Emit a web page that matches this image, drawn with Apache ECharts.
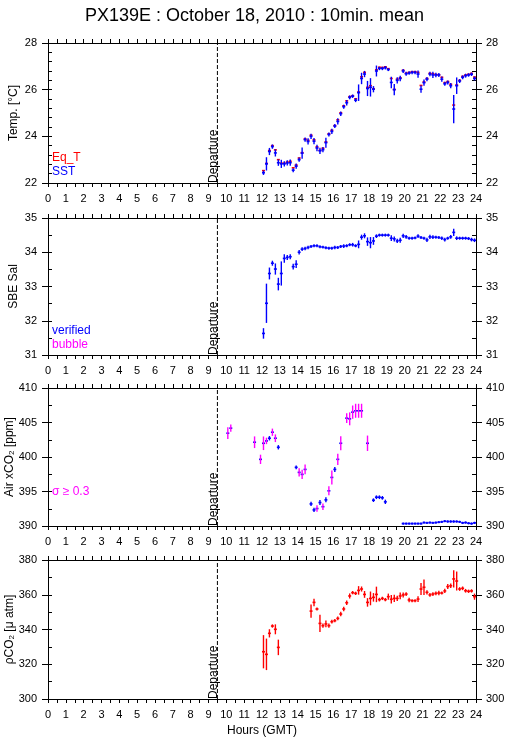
<!DOCTYPE html>
<html>
<head>
<meta charset="utf-8">
<script src="https://cdn.jsdelivr.net/npm/echarts@6/dist/echarts.min.js"></script>
<style>
html,body{margin:0;padding:0;background:#fff;}
#chart{width:509px;height:739px;}
</style>
</head>
<body>
<div id="chart"></div>
<script>
// ---------------- DATA ----------------
const titleText = 'PX139E : October 18, 2010 : 10min. mean';
const departureHour = 9.5;
const hourTicks = [0, 24];

// Panel 1 & 2 times (10-min means)
const seaTimes = ["12:05","12:15","12:25","12:35","12:45","12:55","13:05","13:15","13:25","13:35","13:45","13:55",
 "14:05","14:15","14:25","14:35","14:45","14:55","15:05","15:15","15:25","15:35","15:45","15:55",
 "16:05","16:15","16:25","16:35","16:45","16:55","17:05","17:15","17:25","17:35","17:45","17:55",
 "18:05","18:15","18:25","18:35","18:45","18:55","19:05","19:15","19:25","19:35","19:45","19:55",
 "20:05","20:15","20:25","20:35","20:45","20:55","21:05","21:15","21:25","21:35","21:45","21:55",
 "22:05","22:15","22:25","22:35","22:45","22:55","23:05","23:15","23:25","23:35","23:45","23:55"];

const eqTValues = [22.53,22.84,23.39,23.60,23.42,23.00,22.85,22.85,22.90,22.93,22.65,22.77,
 23.07,23.30,23.89,23.83,24.05,23.85,23.55,23.40,23.49,23.76,24.11,24.26,
 24.46,24.71,25.01,25.31,25.52,25.70,25.74,25.61,25.90,26.55,26.74,26.10,
 26.17,26.04,26.85,26.96,26.95,26.98,26.90,26.48,26.01,26.45,26.51,26.83,
 26.71,26.74,26.77,26.77,26.74,26.18,26.33,26.48,26.70,26.68,26.65,26.64,
 26.53,26.30,26.35,26.23,25.34,26.20,26.40,26.57,26.63,26.66,26.70,26.54];

const sstValues = [22.44,22.82,23.35,23.56,23.29,22.87,22.82,22.82,22.86,22.87,22.55,22.72,
 23.00,23.28,23.86,23.78,24.00,23.79,23.50,23.38,23.43,23.73,24.08,24.21,
 24.44,24.64,24.97,25.27,25.44,25.67,25.72,25.55,25.87,26.48,26.67,26.05,
 26.10,26.02,26.80,26.91,26.91,26.94,26.86,26.31,26.00,26.40,26.48,26.80,
 26.68,26.71,26.74,26.74,26.67,26.02,26.30,26.45,26.67,26.63,26.63,26.63,
 26.45,26.25,26.31,26.17,25.17,26.17,26.37,26.53,26.60,26.63,26.66,26.48];

const sstStd = [0.06,0.25,0.12,0.06,0.12,0.10,0.14,0.08,0.08,0.10,0.05,0.08,
 0.06,0.21,0.06,0.10,0.08,0.10,0.10,0.10,0.08,0.18,0.05,0.08,
 0.05,0.10,0.06,0.05,0.08,0.05,0.04,0.05,0.32,0.21,0.10,0.29,
 0.36,0.10,0.20,0.04,0.04,0.04,0.03,0.21,0.21,0.10,0.08,0.05,
 0.05,0.04,0.04,0.04,0.12,0.12,0.10,0.06,0.06,0.10,0.06,0.05,
 0.08,0.05,0.05,0.08,0.57,0.32,0.05,0.05,0.05,0.04,0.04,0.05];

const salValues = [31.63,32.51,33.38,33.68,33.51,33.07,33.38,33.82,33.85,33.87,33.58,33.65,
 34.00,34.09,34.11,34.14,34.17,34.19,34.19,34.16,34.15,34.13,34.12,34.12,
 34.14,34.14,34.17,34.18,34.19,34.22,34.22,34.19,34.23,34.44,34.48,34.31,
 34.28,34.33,34.47,34.50,34.50,34.50,34.50,34.41,34.39,34.33,34.35,34.48,
 34.45,34.41,34.41,34.42,34.47,34.43,34.41,34.36,34.45,34.44,34.44,34.43,
 34.41,34.37,34.41,34.45,34.58,34.41,34.41,34.41,34.41,34.40,34.37,34.35];

const salStd = [0.13,0.55,0.15,0.05,0.14,0.16,0.33,0.10,0.05,0.05,0.06,0.09,
 0.04,0.03,0.03,0.03,0.02,0.02,0.02,0.02,0.02,0.02,0.02,0.02,
 0.03,0.02,0.02,0.03,0.02,0.02,0.03,0.02,0.09,0.05,0.05,0.10,
 0.14,0.09,0.03,0.02,0.02,0.02,0.02,0.06,0.05,0.04,0.05,0.04,
 0.03,0.02,0.02,0.02,0.03,0.02,0.02,0.04,0.04,0.03,0.02,0.02,
 0.03,0.03,0.02,0.03,0.08,0.03,0.02,0.02,0.02,0.02,0.03,0.03];

// Panel 3: Air xCO2
const airTimes = ["10:05","10:15","11:35","11:55","12:05","12:15","12:25","12:35","12:45","12:55",
 "13:55","14:05","14:15","14:25","14:45","14:55","15:05","15:15","15:25","15:35","15:45","15:55",
 "16:05","16:15","16:25","16:45","16:55","17:05","17:15","17:25","17:35","17:55",
 "18:15","18:25","18:35","18:45","18:55",
 "19:55","20:05","20:15","20:25","20:35","20:45","20:55","21:05","21:15","21:25","21:35","21:45","21:55",
 "22:05","22:15","22:25","22:35","22:45","22:55","23:05","23:15","23:25","23:35","23:45","23:55"];
const airValues = [403.45,404.18,402.14,399.66,401.99,402.33,402.72,403.59,402.72,401.41,
 398.50,397.77,397.48,398.20,393.20,392.33,392.53,393.40,392.80,393.79,395.10,397.04,
 398.20,399.66,401.99,405.63,405.53,406.50,406.70,406.70,406.70,401.99,
 393.74,394.17,394.17,394.08,393.50,
 390.35,390.35,390.35,390.35,390.35,390.35,390.35,390.50,390.45,390.50,390.45,390.50,390.55,
 390.60,390.70,390.65,390.65,390.65,390.65,390.60,390.45,390.50,390.40,390.35,390.45];
const airStd = [0.73,0.41,0.73,0.56,0.87,0.35,0.20,0.41,0.44,0.20,
 0.15,0.49,0.55,0.60,0.20,0.20,0.35,0.25,0.35,0.25,0.53,0.90,
 0.25,0.70,0.90,0.60,0.82,0.85,0.90,0.90,0.90,1.00,
 0.15,0.15,0.15,0.15,0.20,
 0.05,0.05,0.05,0.05,0.05,0.05,0.05,0.05,0.05,0.05,0.05,0.05,0.05,
 0.05,0.05,0.05,0.05,0.05,0.05,0.05,0.05,0.05,0.05,0.05,0.05];
const sigmaThreshold = 0.3;

// Panel 4: pCO2
const pco2Times = ["12:05","12:15","12:25","12:35","12:45","12:55",
 "14:45","14:55","15:05","15:15","15:25","15:35","15:45","15:55",
 "16:05","16:15","16:25","16:35","16:45","16:55","17:05","17:15","17:25","17:35","17:45","17:55",
 "18:05","18:15","18:25","18:35","18:45","18:55","19:05","19:15","19:25","19:35","19:45","19:55",
 "20:05","20:15","20:25","20:35","20:45","20:55","21:05","21:15","21:25","21:35","21:45","21:55",
 "22:05","22:15","22:25","22:35","22:45","22:55","23:05","23:15","23:25","23:35","23:45","23:55"];
const pco2Values = [327.2,325.7,337.8,342.0,340.1,329.7,
 350.6,355.6,351.8,343.5,342.2,343.2,342.2,344.5,
 345.1,346.4,348.9,351.8,355.4,359.3,361.2,360.8,362.5,363.3,360.2,355.6,
 357.9,358.5,360.2,357.2,357.9,357.2,358.9,357.4,357.9,357.9,359.3,359.9,
 360.4,357.0,356.6,356.6,357.5,363.3,364.3,361.4,359.9,360.4,360.8,361.0,
 361.0,362.2,364.7,365.2,369.1,367.9,363.3,363.7,362.3,362.0,362.2,358.9];
const pco2Std = [9.1,8.6,1.9,0.5,2.4,4.0,
 3.4,1.7,0.4,4.5,0.8,1.5,0.8,0.6,
 0.5,0.6,0.8,0.8,0.8,1.0,0.5,0.5,2.0,1.0,1.5,2.0,
 3.5,2.0,4.0,0.6,0.5,0.5,1.3,2.0,1.6,1.0,1.5,1.0,
 0.6,0.8,0.4,0.4,1.2,3.0,4.0,0.8,0.6,0.6,0.6,0.8,
 0.4,0.8,1.0,0.8,4.5,5.0,0.6,0.6,0.6,0.5,0.5,1.3];

// ---------------- CHART ----------------
const FONT = '"Liberation Sans", Arial, sans-serif';
const RED = '#ff0000', BLUE = '#0000ff', MAGENTA = '#ff00ff';

function toHour(t){ const p = t.split(':'); return Number(p[0]) + Number(p[1]) / 60; }
function rows(times, vals, std){ return times.map((t, i) => [toHour(t), vals[i], std ? std[i] : 0]); }

const panels = [
  {top:43,  height:140, min:22,  max:28,  interval:2,  minorSplit:5, name:'Temp. [°C]', gap:28},
  {top:218, height:137, min:31,  max:35,  interval:1,  minorSplit:2, name:'SBE Sal', gap:28},
  {top:388, height:138, min:390, max:410, interval:5,  minorSplit:2, name:'Air xCO{sub|2} [ppm]', gap:32},
  {top:560, height:139, min:300, max:380, interval:20, minorSplit:2, name:'ρCO{sub|2} [μ atm]', gap:32}
];

const LEFT = 48, WIDTH = 428;
const grid = [], xAxis = [], yAxis = [], series = [];
const axisLineStyle = {color:'#000', width:1};

panels.forEach((p, g) => {
  grid.push({left:LEFT, width:WIDTH, top:p.top, height:p.height, containLabel:false, outerBoundsMode:'none'});
  const xBase = {
    type:'value', gridIndex:g, min:hourTicks[0], max:hourTicks[1], interval:1,
    axisLine:{show:true, lineStyle:axisLineStyle, onZero:false},
    axisTick:{show:true, length:4, lineStyle:axisLineStyle},
    minorTick:{show:true, splitNumber:2, length:4, lineStyle:axisLineStyle},
    splitLine:{show:false}
  };
  xAxis.push(Object.assign({}, xBase, {position:'bottom',
    axisLabel:{show:true, fontSize:11, color:'#000', fontFamily:FONT, margin:10},
    name: g === 3 ? 'Hours (GMT)' : '', nameLocation:'middle', nameGap:26, nameMoveOverlap:false,
    nameTextStyle:{fontSize:12, color:'#000', fontFamily:FONT}}));
  xAxis.push(Object.assign({}, xBase, {position:'top', axisLabel:{show:false}}));

  const yBase = {type:'value', gridIndex:g, min:p.min, max:p.max, interval:p.interval,
    axisLine:{show:true, lineStyle:axisLineStyle, onZero:false}, splitLine:{show:false}};
  const sub = {sub:{fontSize:8, color:'#000', fontFamily:FONT, verticalAlign:'bottom', padding:[5,0,0,0]}};
  yAxis.push(Object.assign({}, yBase, {position:'left',
    axisTick:{show:true, length:6, lineStyle:axisLineStyle},
    axisLabel:{show:true, fontSize:11, color:'#000', fontFamily:FONT, margin:11},
    name:p.name, nameLocation:'middle', nameGap:p.gap, nameRotate:90, nameMoveOverlap:false,
    nameTextStyle:{fontSize:12, color:'#000', fontFamily:FONT, rich:sub}}));
  yAxis.push(Object.assign({}, yBase, {position:'left',
    axisTick:{show:true, inside:true, length:4, lineStyle:axisLineStyle},
    minorTick:{show:true, splitNumber:p.minorSplit, length:4, lineStyle:axisLineStyle},
    axisLabel:{show:false}}));
  yAxis.push(Object.assign({}, yBase, {position:'right',
    axisTick:{show:true, length:6, lineStyle:axisLineStyle},
    axisLabel:{show:true, fontSize:11, color:'#000', fontFamily:FONT, margin:10}}));
  yAxis.push(Object.assign({}, yBase, {position:'right',
    axisTick:{show:true, inside:true, length:4, lineStyle:axisLineStyle},
    minorTick:{show:true, splitNumber:p.minorSplit, length:4, lineStyle:axisLineStyle},
    axisLabel:{show:false}}));

  series.push({
    type:'custom', xAxisIndex:2*g, yAxisIndex:4*g, data:[[departureHour]], silent:true, clip:false, z:1,
    renderItem:(params, api) => {
      const x = api.value(0);
      const p0 = api.coord([x, p.min]), p1 = api.coord([x, p.max]);
      return {type:'group', children:[
        {type:'line', shape:{x1:p0[0], y1:p0[1], x2:p1[0], y2:p1[1]},
          style:{stroke:'#000', lineWidth:1, lineDash:[4,2]}},
        {type:'text', x:p0[0] + 2, y:p0[1], rotation:Math.PI/2,
          style:{text:'Departure', fill:'#000', font:'12px ' + FONT,
            align:'left', verticalAlign:'bottom', textAlign:'left', textVerticalAlign:'bottom'}}
      ]};
    }
  });
});

function crossSeries(name, g, data, hColor, vColorFn, z){
  return {
    name, type:'custom', xAxisIndex:2*g, yAxisIndex:4*g, data, clip:false, z, silent:true,
    renderItem:(params, api) => {
      const x = api.value(0), y = api.value(1), s = api.value(2);
      const l = api.coord([x - 5/60, y]), r = api.coord([x + 5/60, y]);
      const children = [
        {type:'line', shape:{x1:l[0], y1:l[1], x2:r[0], y2:r[1]}, style:{stroke:hColor, lineWidth:1.6}}
      ];
      if (s > 0) {
        const t = api.coord([x, y + s]), b = api.coord([x, y - s]);
        children.push({type:'line', shape:{x1:t[0], y1:t[1]-0.8, x2:b[0], y2:b[1]+0.8},
          style:{stroke:vColorFn(s), lineWidth:1.4}});
      }
      return {type:'group', children};
    }
  };
}

series.push(crossSeries('Eq_T', 0, rows(seaTimes, eqTValues, null), RED, () => RED, 2));
series.push(crossSeries('SST', 0, rows(seaTimes, sstValues, sstStd), BLUE, () => BLUE, 3));
series.push(crossSeries('verified', 1, rows(seaTimes, salValues, salStd), BLUE, () => BLUE, 3));
series.push(crossSeries('Air xCO2', 2, rows(airTimes, airValues, airStd), BLUE,
  s => (s >= sigmaThreshold ? MAGENTA : BLUE), 3));
series.push(crossSeries('pCO2', 3, rows(pco2Times, pco2Values, pco2Std), RED, () => RED, 3));

const legendTexts = [
  {text:'Eq_T', color:RED, top:152},
  {text:'SST', color:BLUE, top:166},
  {text:'verified', color:BLUE, top:325},
  {text:'bubble', color:MAGENTA, top:339},
  {text:'σ ≥ 0.3', color:MAGENTA, top:486}
];

const chart = echarts.init(document.getElementById('chart'), null, {renderer:'canvas'});
chart.setOption({
  animation:false,
  backgroundColor:'#fff',
  title:{text:titleText, left:'center', top:2,
    textStyle:{fontSize:18, fontWeight:'normal', color:'#000', fontFamily:FONT}},
  grid, xAxis, yAxis, series,
  graphic: legendTexts.map(t => ({type:'text', left:52, top:t.top,
    style:{text:t.text, fill:t.color, font:'12px ' + FONT}}))
});
</script>
</body>
</html>
